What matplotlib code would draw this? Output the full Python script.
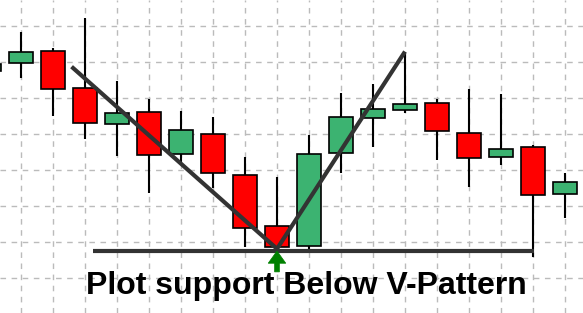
import matplotlib.pyplot as plt

# candle data (index, open, high, low, close) in price units
idx = list(range(0, 19))
opens  = [5.75, 5.96, 6.30, 5.27, 4.27, 4.60, 3.44, 3.99, 2.86, 1.44, 0.89, 3.46, 4.44, 4.66, 4.85, 4.02, 3.35, 3.64, 2.33]
highs  = [6.10, 6.83, 6.38, 7.21, 5.47, 4.97, 4.64, 4.48, 3.37, 2.81, 3.97, 5.15, 5.39, 6.29, 4.97, 5.25, 5.11, 3.70, 2.91]
lows   = [5.50, 5.56, 4.51, 3.85, 3.40, 2.35, 3.19, 2.49, 0.87, 0.85, 0.78, 2.91, 3.63, 4.59, 3.28, 2.54, 3.14, 0.59, 1.66]
closes = [5.94, 6.27, 5.24, 4.30, 4.58, 3.41, 4.10, 2.91, 1.38, 0.85, 3.44, 4.46, 4.69, 4.83, 4.08, 3.33, 3.58, 2.31, 2.68]

# V-pattern trend lines and support
v_x = [2.58, 9.0, 13.0]
v_y = [5.87, 0.81, 6.29]
support_x = [3.25, 17.03]
support_y = 0.75
arrow_x = 9
arrow_tail = 0.17
label = "Plot support Below V-Pattern"

fig = plt.figure(figsize=(5.83, 3.13), dpi=100)
ax = fig.add_axes([0, 0, 1, 1])

ax.set_xticks(idx)
ax.set_yticks(range(0, 8))
ax.grid(True, color='#bbbbbb', linestyle=(0, (4, 4)), linewidth=1)
ax.set_axisbelow(True)
for s in ax.spines.values():
    s.set_visible(False)
ax.tick_params(left=False, bottom=False, labelleft=False, labelbottom=False)

for i, o, h, l, c in zip(idx, opens, highs, lows, closes):
    col = '#3cb371' if c >= o else '#ff0000'
    ax.vlines(i, l, h, color='black', linewidth=1.5, zorder=2)
    ax.bar(i, abs(c - o), bottom=min(o, c), width=0.75, color=col,
           edgecolor='black', linewidth=1.2, zorder=3)

ax.plot(v_x, v_y, color='#333333', linewidth=3, solid_capstyle='butt', zorder=4)
ax.plot(support_x, [support_y, support_y], color='#333333', linewidth=3,
        solid_capstyle='butt', zorder=4)

# green arrow pointing at the support under the V bottom
ax.arrow(arrow_x, arrow_tail, 0, support_y - arrow_tail, width=0.15,
         head_width=0.55, head_length=0.34, length_includes_head=True,
         color='#008000', linewidth=0.5, zorder=5)

ax.text(9.906, -0.45, label, ha='center', va='baseline', fontsize=23,
        fontweight='bold', family='Liberation Sans', color='black')

# set limits last so tick setting does not widen the view
ax.set_xlim(0.34375, 18.5625)
ax.set_ylim(-0.972, 7.722)

fig.savefig('out.png', dpi=100)
